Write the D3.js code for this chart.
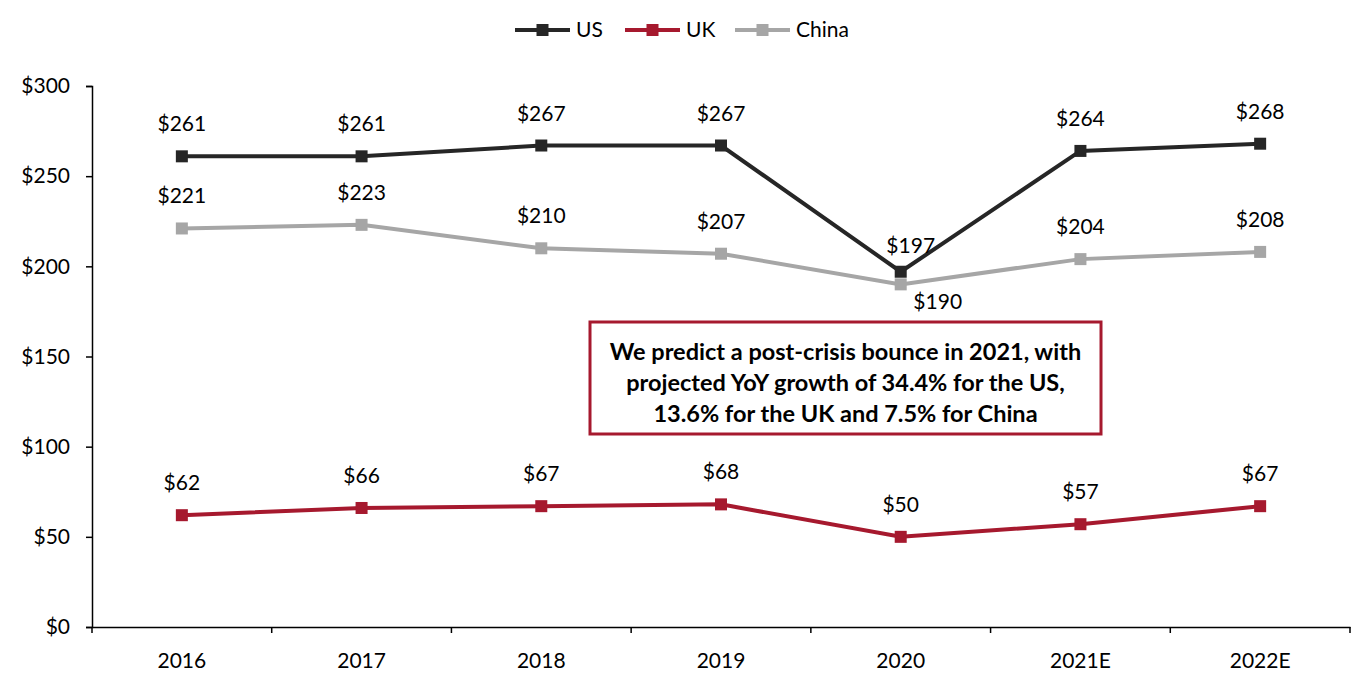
<!DOCTYPE html>
<html><head><meta charset="utf-8">
<script src="https://cdn.jsdelivr.net/npm/d3@7"></script>
<style>body{margin:0;background:#fff;font-family:Lato,"Open Sans",sans-serif;}</style>
</head><body><svg id="c" width="1361" height="684"></svg>
<script>
const categories = ["2016","2017","2018","2019","2020","2021E","2022E"];
const usValues = [261,261,267,267,197,264,268];
const ukValues = [62,66,67,68,50,57,67];
const chinaValues = [221,223,210,207,190,204,208];
const yTicks = [0,50,100,150,200,250,300];
const seriesNames = ["US","UK","China"];
const seriesColors = ["#262626","#A6192E","#A6A6A6"];
const annotationLines = ["We predict a post-crisis bounce in 2021, with","projected YoY growth of 34.4% for the US,","13.6% for the UK and 7.5% for China"];

(function(){
const svg = d3.select("#c");
const pL=92, pR=1350, pT=86, pB=627;
const x = d3.scaleBand().domain(categories).range([pL,pR]);
const y = d3.scaleLinear().domain([0,300]).range([pB,pT]);
const font = "Lato, 'Open Sans', sans-serif";
const fs = 21;

const ya = svg.append("g").attr("transform",`translate(${pL},0)`)
  .call(d3.axisLeft(y).tickValues(yTicks).tickFormat(d=>"$"+d).tickSizeOuter(0).tickSize(6));
ya.select(".domain").attr("stroke","#000").attr("stroke-width",1.5);
ya.selectAll(".tick line").attr("stroke","#000").attr("stroke-width",1.5);
ya.selectAll(".tick text").attr("font-size",fs).attr("font-family",font).attr("fill","#000").attr("x",-22);

const xa = svg.append("g").attr("transform",`translate(0,${pB})`)
  .call(d3.axisBottom(x).tickSize(0).tickSizeOuter(0));
xa.select(".domain").attr("stroke","#000").attr("stroke-width",1.5);
xa.selectAll(".tick text").attr("font-size",fs).attr("font-family",font).attr("fill","#000").attr("dy","0").attr("y",41);
svg.append("g").selectAll("line").data(categories.map((c,i)=>i).concat([categories.length]))
  .join("line")
  .attr("x1",i=>pL+i*x.step()).attr("x2",i=>pL+i*x.step())
  .attr("y1",pB).attr("y2",pB+6).attr("stroke","#000").attr("stroke-width",1.5);

const cx = c => x(c)+x.bandwidth()/2;
const data = [usValues, ukValues, chinaValues];
const line = d3.line().x((d,i)=>cx(categories[i])).y(d=>y(d));

[2,1,0].forEach(s=>{
  const g = svg.append("g");
  g.append("path").attr("d",line(data[s])).attr("fill","none")
    .attr("stroke",seriesColors[s]).attr("stroke-width",4);
  g.selectAll("rect").data(data[s]).join("rect")
    .attr("x",(d,i)=>cx(categories[i])-6).attr("y",d=>y(d)-6)
    .attr("width",12).attr("height",12).attr("fill",seriesColors[s]);
});

[0,1,2].forEach(s=>{
  svg.append("g").selectAll("text").data(data[s]).join("text")
    .attr("x",(d,i)=>{
      let xx=cx(categories[i]);
      if(s===0&&i===4) xx+=10;
      if(s===2&&i===4) xx+=37;
      return xx;})
    .attr("y",(d,i)=>{
      if(s===2&&i===4) return y(d)+25;
      if(s===0&&i===4) return y(d)-19;
      return y(d)-25;})
    .attr("text-anchor","middle").attr("font-size",fs).attr("font-family",font)
    .attr("fill","#000").text(d=>"$"+d);
});

const lx=[515,625,735];
seriesNames.forEach((n,i)=>{
  svg.append("line").attr("x1",lx[i]).attr("x2",lx[i]+55).attr("y1",30).attr("y2",30)
    .attr("stroke",seriesColors[i]).attr("stroke-width",4);
  svg.append("rect").attr("x",lx[i]+21.5).attr("y",24).attr("width",12).attr("height",12).attr("fill",seriesColors[i]);
  svg.append("text").attr("x",lx[i]+61).attr("y",37).attr("font-size",fs).attr("font-family",font).text(n);
});

svg.append("rect").attr("x",590).attr("y",322).attr("width",511).attr("height",112)
  .attr("fill","#fff").attr("stroke","#A6192E").attr("stroke-width",3);
svg.append("g").selectAll("text").data(annotationLines).join("text")
  .attr("x",845.5).attr("y",(d,i)=>360+i*31).attr("text-anchor","middle")
  .attr("font-size",23.5).attr("font-weight","bold").attr("font-family",font).text(d=>d);
})();
</script></body></html>
